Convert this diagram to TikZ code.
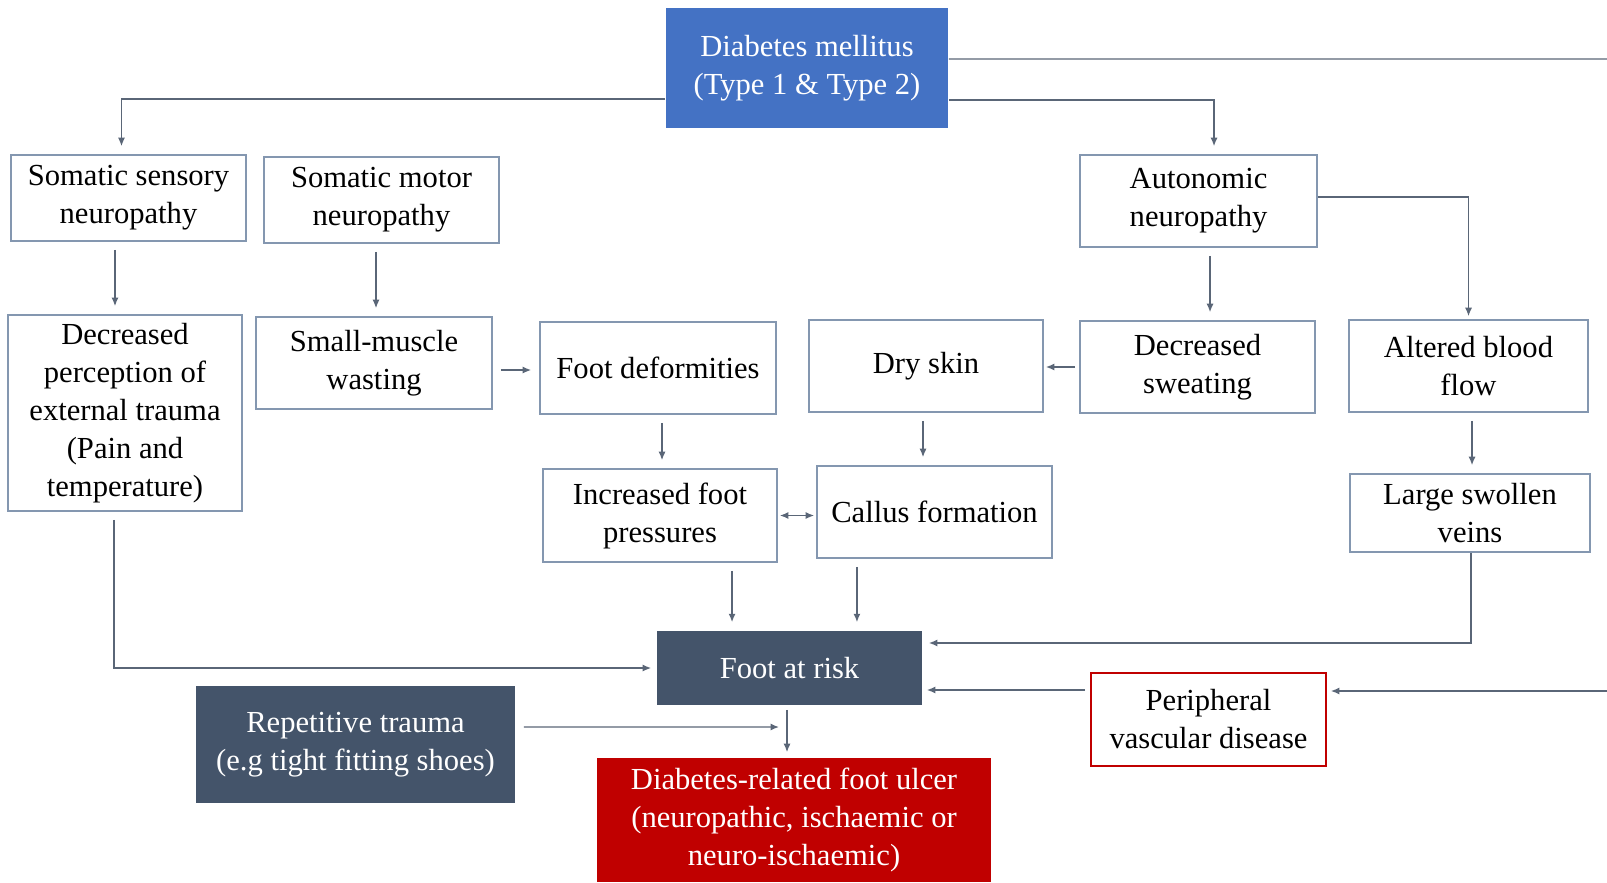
\documentclass[tikz,border=0pt]{standalone}
\usepackage{fontspec}
\setmainfont{Liberation Serif}
\usetikzlibrary{arrows.meta}
\definecolor{dmblue}{HTML}{4472C4}
\definecolor{slate}{HTML}{44546A}
\definecolor{ulcerred}{HTML}{C00000}
\definecolor{boxline}{HTML}{8497B0}
\definecolor{arrline}{HTML}{5A6677}

\begin{document}
\begin{tikzpicture}[x=0.01cm, y=-0.01cm,
  box/.style={draw=boxline, line width=0.45pt, fill=white, align=center, inner sep=0pt,
    font=\fontsize{8.7}{10.8}\selectfont},
  dark/.style={box, draw=none, fill=slate, text=white},
  arr/.style={draw=arrline, line width=0.4pt, -{Latex[length=2.4pt,width=2pt]},
    shorten <=0.08cm, shorten >=0.08cm},
  wire/.style={draw=arrline, line width=0.4pt}]
  \useasboundingbox (0,0) rectangle (1607,882);

  % top
  \node[box, draw=none, fill=dmblue, text=white, minimum width=2.82cm, minimum height=1.2cm] (dm) at (807,68)
    {Diabetes mellitus\\(Type 1 \& Type 2)};

  % neuropathies
  \node[box, minimum width=2.35cm, minimum height=0.86cm] (sens) at (128.5,198) {Somatic sensory\\neuropathy};
  \node[box, minimum width=2.35cm, minimum height=0.86cm] (motor) at (381.5,200) {Somatic motor\\neuropathy};
  \node[box, minimum width=2.37cm, minimum height=0.92cm] (auto) at (1198.5,201) {Autonomic\\neuropathy};

  % middle row
  \node[box, minimum width=2.34cm, minimum height=1.96cm] (perc) at (125,413)
    {Decreased\\perception of\\external trauma\\(Pain and\\temperature)};
  \node[box, minimum width=2.36cm, minimum height=0.92cm] (wast) at (374,363) {Small-muscle\\wasting};
  \node[box, minimum width=2.36cm, minimum height=0.92cm] (deform) at (658,368) {Foot deformities};
  \node[box, minimum width=2.34cm, minimum height=0.92cm] (dry) at (926,366) {Dry skin};
  \node[box, minimum width=2.35cm, minimum height=0.92cm] (sweat) at (1197.5,367) {Decreased\\sweating};
  \node[box, minimum width=2.39cm, minimum height=0.92cm] (blood) at (1468.5,366) {Altered blood\\flow};

  \node[box, minimum width=2.34cm, minimum height=0.93cm] (press) at (660,515.5) {Increased foot\\pressures};
  \node[box, minimum width=2.35cm, minimum height=0.92cm] (callus) at (934.5,512) {Callus formation};
  \node[box, minimum width=2.40cm, minimum height=0.78cm] (veins) at (1470,513) {Large swollen\\veins};

  % bottom
  \node[dark, minimum width=2.65cm, minimum height=0.74cm] (risk) at (789.5,668) {Foot at risk};
  \node[box, draw=ulcerred, minimum width=2.35cm, minimum height=0.93cm] (pvd) at (1208.5,719.5)
    {Peripheral\\vascular disease};
  \node[dark, minimum width=3.19cm, minimum height=1.17cm] (trauma) at (355.5,744.5)
    {Repetitive trauma\\(e.g tight fitting shoes)};
  \node[dark, fill=ulcerred, minimum width=3.94cm, minimum height=1.24cm] (ulcer) at (794,820)
    {Diabetes-related foot ulcer\\(neuropathic, ischaemic or\\neuro-ischaemic)};

  \coordinate (edgetop) at (1607,59);
  \coordinate (edgepvd) at (1607,691);
  \coordinate (traumaend) at (779,727);

  % connectors
  \draw[wire] ([yshift=0.09cm]dm.east) -- (edgetop);
  \draw[arr, shorten <=0pt] ([yshift=-0.31cm]dm.west) -| ([xshift=-0.07cm]sens.north);
  \draw[arr, shorten <=0pt] ([yshift=-0.32cm]dm.east) -| ([xshift=0.155cm]auto.north);

  \draw[arr] ([xshift=-0.135cm]sens.south) -- ([xshift=-0.135cm]sens.south |- perc.north);
  \draw[arr] ([xshift=-0.055cm]motor.south) -- ([xshift=-0.055cm]motor.south |- wast.north);
  \draw[arr] ([yshift=-0.07cm]wast.east) -- ([yshift=-0.07cm]wast.east -| deform.west);
  \draw[arr, shorten <=0.04cm, shorten >=0.02cm] (sweat.west) -- (sweat.west -| dry.east);
  \draw[arr] ([xshift=0.115cm]auto.south) -- ([xshift=0.115cm]auto.south |- sweat.north);
  \draw[arr, shorten <=0pt, shorten >=0.03cm] ([yshift=0.04cm]auto.east) -| (blood.north);

  \draw[arr] ([xshift=0.04cm]deform.south) -- ([xshift=0.04cm]deform.south |- press.north);
  \draw[arr] ([xshift=-0.03cm]dry.south) -- ([xshift=-0.03cm]dry.south |- callus.north);
  \draw[arr] ([xshift=0.035cm]blood.south) -- ([xshift=0.035cm]blood.south |- veins.north);
  \draw[arr, {Latex[length=2.4pt,width=2pt]}-{Latex[length=2.4pt,width=2pt]}, shorten <=0.02cm, shorten >=0.02cm]
    (press.east) -- (press.east -| callus.west);

  \draw[arr] ([xshift=0.72cm]press.south) -- ([xshift=0.72cm]press.south |- risk.north);
  \draw[arr] ([xshift=-0.775cm]callus.south) -- ([xshift=-0.775cm]callus.south |- risk.north);
  \draw[arr, shorten >=0.05cm] ([xshift=-0.11cm]perc.south) |- (risk.west);
  \draw[arr, shorten <=0pt, shorten >=0.06cm] ([xshift=0.01cm]veins.south) |- ([yshift=0.25cm]risk.east);
  \draw[arr, shorten <=0.05cm, shorten >=0.04cm] ([yshift=0.295cm]pvd.west) -- ([yshift=0.295cm]pvd.west -| risk.east);
  \draw[arr, shorten <=0pt, shorten >=0.04cm] (edgepvd) -- (edgepvd -| pvd.east);
  \draw[arr, shorten >=0pt] ([yshift=0.175cm]trauma.east) -- (traumaend);
  \draw[arr, shorten <=0.04cm, shorten >=0.05cm] ([xshift=-0.025cm]risk.south) -- ([xshift=-0.025cm]risk.south |- ulcer.north);
\end{tikzpicture}
\end{document}
